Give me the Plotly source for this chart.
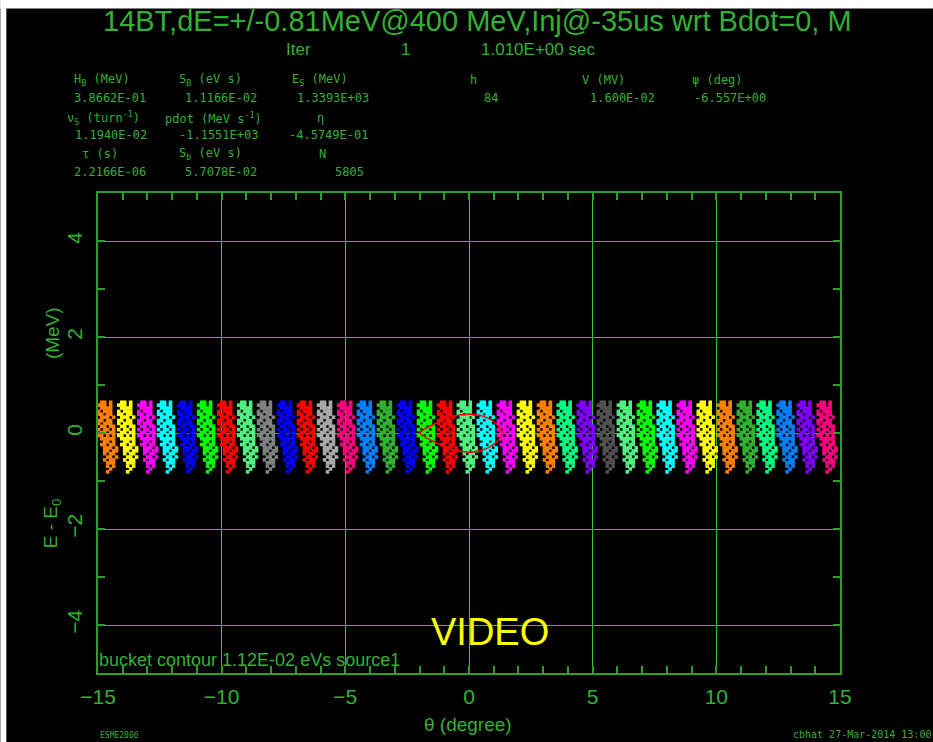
import plotly.graph_objects as go

# ---------------- data ----------------
x_tick_vals = [-15, -10, -5, 0, 5, 10, 15]
y_tick_vals = [-4, -2, 0, 2, 4]

# bunch centres (degree), left to right
bunch_theta = [-14.61, -13.80, -12.99, -12.19, -11.38, -10.57, -9.76, -8.95, -8.15,
               -7.34, -6.53, -5.72, -4.91, -4.11, -3.30, -2.49, -1.68, -0.87, -0.07,
               0.74, 1.55, 2.36, 3.17, 3.97, 4.78, 5.59, 6.40, 7.21, 8.01, 8.82,
               9.63, 10.44, 11.25, 12.05, 12.86, 13.67, 14.48]
bunch_colors = ["#ff8000", "#ffff00", "#ff00ff", "#00ffff", "#0000ff", "#00ff00", "#ff0000",
                "#50f080", "#808080", "#0000ff", "#ff0000", "#a8a8a8", "#ff0080", "#0080ff",
                "#30b030", "#0000ff", "#00ff00", "#ff0000", "#50f080", "#00ffff", "#ff00ff",
                "#ffff00", "#ff8000", "#00ff80", "#8000ff", "#505050", "#50f080", "#00ff00",
                "#00ffff", "#ff00ff", "#ffff00", "#ff8000", "#30b030", "#00ff80", "#0080ff",
                "#8000ff", "#ff0080"]

# particle occupancy of one bunch, top (dE high) to bottom
bunch_rows = [".xx.x..", "xxx.x..", ".xxxx..", "x.xxx..", "xx.xx..", ".xxx.x.",
              "xx.xx..", "x.xxx..", ".xx.xx.", "x.xx.x.", ".xx.xx.", "xx.x.x.",
              ".xxxxx.", "..xx.x.", ".xx.xx.", "..xxx.x", "..xx.xx", "..x.xx.",
              "...xx.x", "..x.xx.", "...xxx.", "...x.x.", "....x..", "...x..."]
row_de = [0.64, 0.58, 0.52, 0.45, 0.39, 0.33, 0.26, 0.20, 0.14, 0.07, 0.01, -0.05,
          -0.12, -0.18, -0.24, -0.31, -0.37, -0.43, -0.50, -0.56, -0.62, -0.69, -0.75, -0.81]
col_dtheta = [-0.36, -0.24, -0.12, 0.0, 0.12, 0.24, 0.36]

# bucket contour (red)
contour_theta = [-1.98, -1.30, -0.64, 0.10, 0.73, 1.13, 1.37, 1.13, 0.73, 0.10, -0.64, -1.30, -1.98]
contour_de = [0.0, 0.21, 0.35, 0.39, 0.32, 0.18, 0.0, -0.18, -0.32, -0.40, -0.35, -0.21, 0.0]

title_text = "14BT,dE=+/-0.81MeV@400 MeV,Inj@-35us wrt Bdot=0, M"

param_labels = [
    ["H<sub>B</sub> (MeV)", "S<sub>B</sub> (eV s)", "E<sub>S</sub> (MeV)", "h", "V (MV)", "ψ (deg)"],
    ["ν<sub>S</sub> (turn<sup>-1</sup>)", "pdot (MeV s<sup>-1</sup>)", "η"],
    ["τ (s)", "S<sub>b</sub> (eV s)", "N"],
]
param_values = [
    ["3.8662E-01", "1.1166E-02", "1.3393E+03", "84", "1.600E-02", "-6.557E+00"],
    ["1.1940E-02", "-1.1551E+03", "-4.5749E-01"],
    ["2.2166E-06", "5.7078E-02", "5805"],
]

# ---------------- layout geometry ----------------
W, H = 933, 742
PL, PR, PT, PB = 97.7, 840.0, 193.3, 673.0
AX = "#2e9e2e"
GRID = "#3cc03c"
TXT = "#34b034"


def px(x):
    return (x - PL) / (PR - PL)


def py(y):
    return (PB - y) / (PB - PT)


fig = go.Figure()

for th, col in zip(bunch_theta, bunch_colors):
    xs, ys = [], []
    for de, row in zip(row_de, bunch_rows):
        for dth, ch in zip(col_dtheta, row):
            if ch == "x":
                xs.append(th + dth)
                ys.append(de)
    fig.add_trace(go.Scatter(x=xs, y=ys, mode="markers",
                             marker=dict(symbol="square", size=3.6, color=col, line=dict(width=0)),
                             hoverinfo="skip"))

fig.add_trace(go.Scatter(x=contour_theta, y=contour_de, mode="lines",
                         line=dict(color="#ff0000", width=1.5, shape="spline", smoothing=0.8),
                         hoverinfo="skip"))

annotations = []


def ann(text, x, y, size, color=TXT, family="Liberation Sans, Arial, sans-serif",
        xanchor="left", yanchor="middle", angle=0):
    annotations.append(dict(text=text, x=px(x), y=py(y), xref="paper", yref="paper",
                            showarrow=False, xanchor=xanchor, yanchor=yanchor,
                            textangle=angle, font=dict(size=size, color=color, family=family)))


ann(title_text, 477, 21, 29, xanchor="center")
ann("Iter", 284, 50, 17)
ann("1", 399, 50, 17)
ann("1.010E+00 sec", 479, 50, 17)

MONO = "DejaVu Sans Mono, monospace"
label_x = [[72, 177, 290, 468, 580, 690], [65, 163, 315], [80, 177, 317]]
value_x = [[72, 183, 295, 482, 588, 692], [73, 177, 287], [72, 183, 333]]
label_y = [80, 118, 154]
value_y = [98, 135, 172]
for r in range(3):
    for lab, lx in zip(param_labels[r], label_x[r]):
        ann(lab, lx, label_y[r], 12, family=MONO)
    for val, vx in zip(param_values[r], value_x[r]):
        ann(val, vx, value_y[r], 12, family=MONO)

ann("(MeV)", 52, 333, 19, xanchor="center", angle=-90)
ann("E - E<sub>0</sub>", 52, 523, 19, xanchor="center", angle=-90)
ann("θ (degree)", 468, 724, 19, xanchor="center")
ann("bucket contour 1.12E-02 eVs source1", 97, 660, 18)
ann("VIDEO", 490, 632, 38, color="#ffff00", xanchor="center")
ann("ESME2006", 98, 735, 8, family=MONO)
ann("cbhat 27-Mar-2014 13:00", 933, 734, 10, family=MONO, xanchor="right")

shapes = [
    dict(type="rect", xref="paper", yref="paper", x0=px(0), x1=px(W), y0=py(0), y1=py(9),
         fillcolor="white", line=dict(width=0), layer="below"),
    dict(type="rect", xref="paper", yref="paper", x0=px(0), x1=px(6), y0=py(0), y1=py(H),
         fillcolor="white", line=dict(width=0), layer="below"),
]

axis_common = dict(showline=True, linecolor=AX, linewidth=2, mirror="ticks",
                   showgrid=True, gridcolor=GRID, gridwidth=1, zeroline=False,
                   ticks="inside", ticklen=7, tickwidth=1.5, tickcolor=AX,
                   tickfont=dict(size=21, color=TXT, family="Liberation Sans, Arial, sans-serif"))

fig.update_layout(
    width=W, height=H,
    margin=dict(l=PL, r=W - PR, t=PT, b=H - PB, pad=0),
    paper_bgcolor="black", plot_bgcolor="black",
    showlegend=False,
    xaxis=dict(range=[-15, 15], tickvals=x_tick_vals, ticklabelstandoff=4,
               minor=dict(dtick=1, tick0=0, ticks="inside", ticklen=7, tickwidth=1.5,
                          tickcolor=AX, showgrid=False),
               **axis_common),
    yaxis=dict(range=[-5, 5], tickvals=y_tick_vals, tickangle=-90, ticklabelstandoff=6,
               minor=dict(dtick=1, tick0=0, ticks="inside", ticklen=7, tickwidth=1.5,
                          tickcolor=AX, showgrid=False),
               **axis_common),
    annotations=annotations,
    shapes=shapes,
)

fig.write_html("out.html")
